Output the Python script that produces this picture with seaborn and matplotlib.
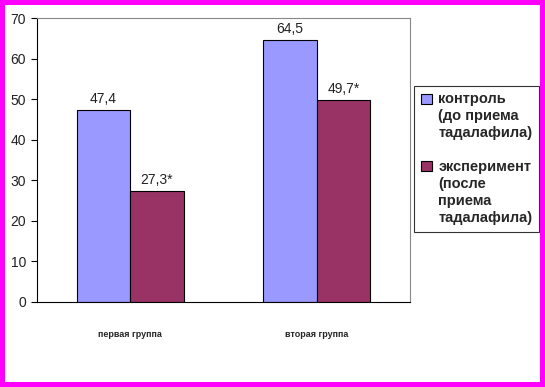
import matplotlib
matplotlib.use("Agg")
import matplotlib.pyplot as plt
from matplotlib.patches import Rectangle
from matplotlib.legend_handler import HandlerPatch
import seaborn as sns
import pandas as pd

# данные
groups = ["первая группа", "вторая группа"]
series = ["контроль\n(до приема\nтадалафила)",
          "эксперимент\n(после\nприема\nтадалафила)"]
control = [47.4, 64.5]
experiment = [27.3, 49.7]
control_labels = ["47,4", "64,5"]
experiment_labels = ["27,3*", "49,7*"]
colors = ["#9999FF", "#993366"]

df = pd.DataFrame({
    "group": groups * 2,
    "series": [series[0]] * 2 + [series[1]] * 2,
    "value": control + experiment,
})

LINESP = 1.27


# маркер легенды на уровне первой строки
class TopPatch(HandlerPatch):
    def __init__(self, lines, **kw):
        super().__init__(**kw)
        self.lines = lines

    def create_artists(self, legend, orig_handle, xdescent, ydescent,
                       width, height, fontsize, trans):
        shift = (self.lines - 1) * fontsize * 0.975 * LINESP / 2
        p = Rectangle((-xdescent, -ydescent + shift), width, height,
                      facecolor=orig_handle.get_facecolor(),
                      edgecolor="black", linewidth=0.8, transform=trans)
        return [p]


sns.set_style("white")
plt.rcParams["font.family"] = ["Liberation Sans", "DejaVu Sans"]

fig = plt.figure(figsize=(5.45, 3.87), dpi=100)
ax = fig.add_axes([0.068, 0.22, 0.684, 0.733])

sns.barplot(data=df, x="group", y="value", hue="series", palette=colors,
            width=0.573, edgecolor="black", linewidth=0.8, saturation=1,
            ax=ax)

ax.set_xlim(-0.5, 1.5)
ax.set_ylim(0, 70)
ax.set_yticks(range(0, 71, 10))
ax.set_xlabel("")
ax.set_ylabel("")

for cont, labs in zip(ax.containers, [control_labels, experiment_labels]):
    ax.bar_label(cont, labels=labs, padding=3, fontsize=10, color="#222222")

ax.tick_params(axis="y", length=4, width=0.8, color="black",
               labelsize=10, labelcolor="#222222", pad=4, left=True)
ax.tick_params(axis="x", length=0, labelsize=6.5, pad=20)
for lab in ax.get_xticklabels():
    lab.set_fontweight("bold")

ax.spines["left"].set_color("black")
ax.spines["bottom"].set_color("black")
ax.spines["top"].set_color("#888888")
ax.spines["right"].set_color("#888888")
for s in ax.spines.values():
    s.set_linewidth(0.8)

handles, labels = ax.get_legend_handles_labels()
hmap = {h: TopPatch(lab.count("\n") + 1) for h, lab in zip(handles, labels)}
leg = ax.legend(handles, labels, handler_map=hmap,
                loc="upper left", bbox_to_anchor=(0.760, 0.778),
                bbox_transform=fig.transFigure, borderaxespad=0,
                frameon=True, fancybox=False,
                edgecolor="black", handlelength=0.75,
                handleheight=0.7, handletextpad=0.45, labelspacing=1.35,
                borderpad=0.45, prop={"weight": "bold", "size": 10.5})
leg.get_frame().set_linewidth(0.8)
for t in leg.get_texts():
    t.set_linespacing(LINESP)

# розовая рамка
fig.patches.append(Rectangle((0, 0), 1, 1, transform=fig.transFigure,
                             fill=False, edgecolor="#FF00FF", linewidth=7.2,
                             zorder=10))

fig.savefig("out.png", dpi=100, facecolor="white")
